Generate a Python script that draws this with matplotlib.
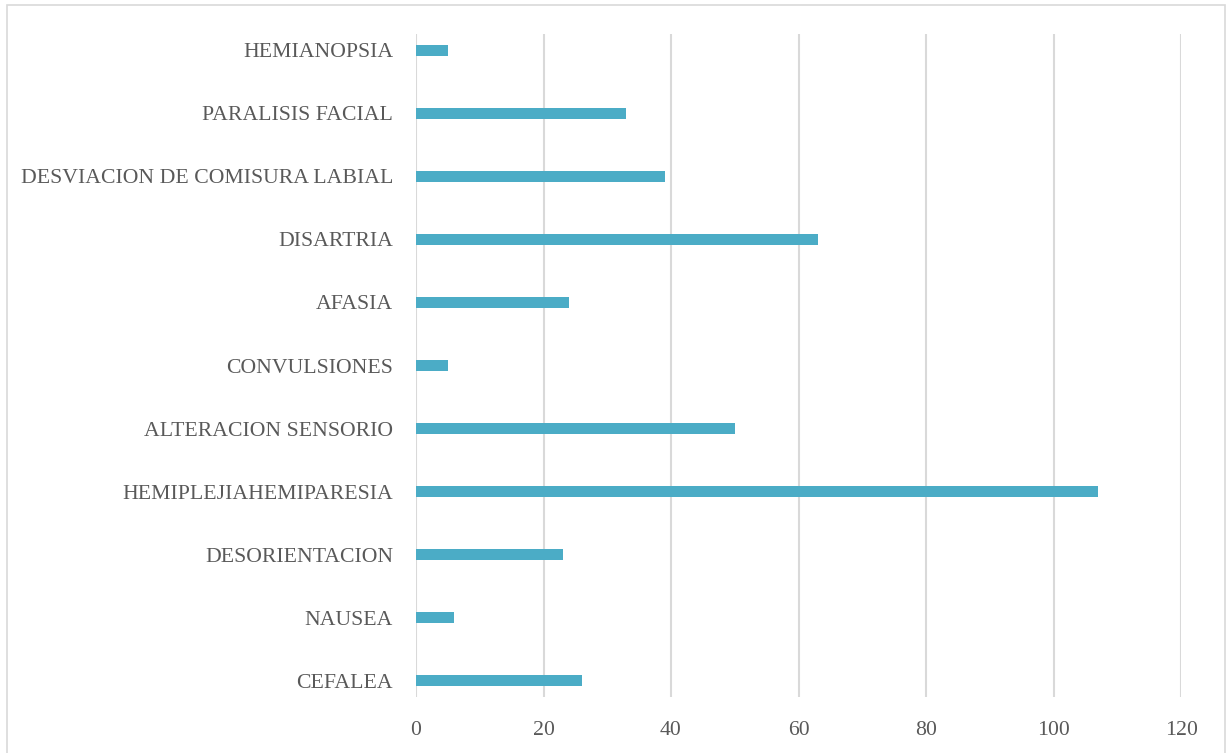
import numpy as np
import matplotlib.pyplot as plt
from matplotlib.patches import Rectangle

# Síntomas (de abajo hacia arriba) y número de casos
sintomas = ['CEFALEA', 'NAUSEA', 'DESORIENTACION', 'HEMIPLEJIAHEMIPARESIA',
            'ALTERACION SENSORIO', 'CONVULSIONES', 'AFASIA', 'DISARTRIA',
            'DESVIACION DE COMISURA LABIAL', 'PARALISIS FACIAL', 'HEMIANOPSIA']
casos = [26, 6, 23, 107, 50, 5, 24, 63, 39, 33, 5]
ticks_x = [0, 20, 40, 60, 80, 100, 120]

plt.rcParams['font.family'] = ['Liberation Serif', 'DejaVu Serif']

fig = plt.figure(figsize=(12.28, 7.53), dpi=100)
ax = fig.add_axes([416 / 1228, 1 - 712.5 / 753, (1181 - 416) / 1228, (712.5 - 18.5) / 753])

y = np.arange(len(sintomas))
ax.vlines(ticks_x, -0.25, len(sintomas) - 0.75, color='#d9d9d9', linewidth=1.5, zorder=1)
ax.barh(y, casos, height=0.175, color='#4bacc6', zorder=2)

ax.set_xlim(0, 120)
ax.set_ylim(-0.5, len(sintomas) - 0.5)
ax.set_xticks(ticks_x)
ax.set_yticks(y)
ax.set_yticklabels(sintomas)
ax.tick_params(axis='y', length=0, pad=16.5, labelsize=15.7, labelcolor='#595959')
ax.tick_params(axis='x', length=0, pad=6, labelsize=15.7, labelcolor='#595959')
for s in ax.spines.values():
    s.set_visible(False)

# marco del gráfico
fig.patches.append(Rectangle((7 / 1228, -0.01), 1218 / 1228, 1 - 5 / 753 + 0.01,
                             transform=fig.transFigure, fill=False,
                             edgecolor='#d9d9d9', linewidth=1.2))

fig.savefig('out.png', dpi=100)
